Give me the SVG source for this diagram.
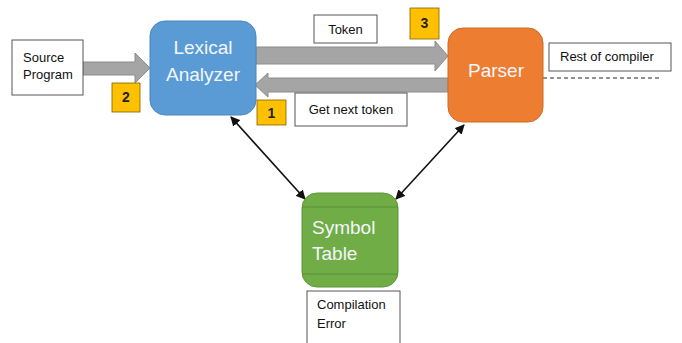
<svg xmlns="http://www.w3.org/2000/svg" width="682" height="343" viewBox="0 0 682 343">
<defs>
<style>
.lbl{fill:#fff;stroke:#555;stroke-width:1}
.t{font-family:"Liberation Sans",Arial,sans-serif;font-size:13px;fill:#111}
.big{font-family:"Liberation Sans",Arial,sans-serif;font-size:19px;fill:#f2f6fb}
.num{fill:#FFC000;stroke:#7f6000;stroke-width:0.8}
.nt{font-family:"Liberation Sans",Arial,sans-serif;font-size:14px;font-weight:bold;fill:#222;text-anchor:middle}
.garrow{fill:#A5A5A5;stroke:#8c8c8c;stroke-width:1}
.link{stroke:#111;stroke-width:1.6;fill:none;marker-start:url(#ah);marker-end:url(#ah)}
</style>
<marker id="ah" viewBox="0 0 10 10" refX="9" refY="5" markerWidth="6" markerHeight="6" orient="auto-start-reverse" markerUnits="strokeWidth">
<path d="M0,0 L10,5 L0,10 z" fill="#111"/>
</marker>
</defs>
<rect width="682" height="343" fill="#fff"/>

<g id="connectors">
<polygon class="garrow" points="83,62 135,62 135,53 150,68 135,83 135,75 83,75"/>
<polygon class="garrow" points="256,47 435,47 435,41 448,56 435,71 435,64 256,64"/>
<polygon class="garrow" points="448,78 268,78 268,73 255,85 268,97 268,92 448,92"/>
<line class="link" x1="231" y1="117" x2="305" y2="199"/>
<line class="link" x1="464" y1="125" x2="396" y2="199"/>
<line x1="543" y1="78" x2="660" y2="78" stroke="#222" stroke-width="1" stroke-dasharray="4,3"/>
</g>

<g id="source">
<rect class="lbl" x="12" y="40" width="71" height="55"/>
<text class="t" x="23" y="62">Source</text>
<text class="t" x="23" y="79">Program</text>
</g>

<g id="lexical">
<rect x="150" y="21" width="106" height="94" rx="15" fill="#5B9BD5" stroke="#4a86c0" stroke-width="1"/>
<text class="big" x="203" y="54" text-anchor="middle">Lexical</text>
<text class="big" x="203" y="81" text-anchor="middle">Analyzer</text>
</g>

<g id="parser">
<rect x="448" y="28" width="95" height="94" rx="15" fill="#ED7D31" stroke="#d06a25" stroke-width="1"/>
<text class="big" x="496" y="77" text-anchor="middle" font-size="20">Parser</text>
</g>

<g id="symbol">
<rect x="302" y="193" width="96" height="94" rx="15" fill="#70AD47" stroke="#5e9639" stroke-width="1"/>
<line x1="302" y1="207" x2="398" y2="207" stroke="#5a8f37" stroke-width="1"/>
<line x1="302" y1="274" x2="398" y2="274" stroke="#5a8f37" stroke-width="1"/>
<text class="big" x="312" y="234" font-size="19">Symbol</text>
<text class="big" x="312" y="260" font-size="19">Table</text>
</g>

<g id="token">
<rect class="lbl" x="314" y="15" width="63" height="28"/>
<text class="t" x="345.5" y="34" text-anchor="middle">Token</text>
</g>

<g id="getnext">
<rect class="lbl" x="295" y="93" width="112" height="33"/>
<text class="t" x="351" y="114" text-anchor="middle" font-size="14">Get next token</text>
</g>

<g id="rest">
<rect class="lbl" x="549" y="43" width="122" height="28"/>
<text class="t" x="560" y="61">Rest of compiler</text>
</g>

<g id="compilation">
<rect class="lbl" x="307" y="291" width="93" height="60"/>
<text class="t" x="317" y="309">Compilation</text>
<text class="t" x="317" y="328">Error</text>
</g>

<g id="n2">
<rect class="num" x="112" y="83" width="28" height="29"/>
<text class="nt" x="126" y="102">2</text>
</g>
<g id="n1">
<rect class="num" x="257" y="100" width="29" height="25"/>
<text class="nt" x="271.5" y="118">1</text>
</g>
<g id="n3">
<rect class="num" x="410" y="8" width="29" height="31"/>
<text class="nt" x="424.5" y="28">3</text>
</g>
</svg>
